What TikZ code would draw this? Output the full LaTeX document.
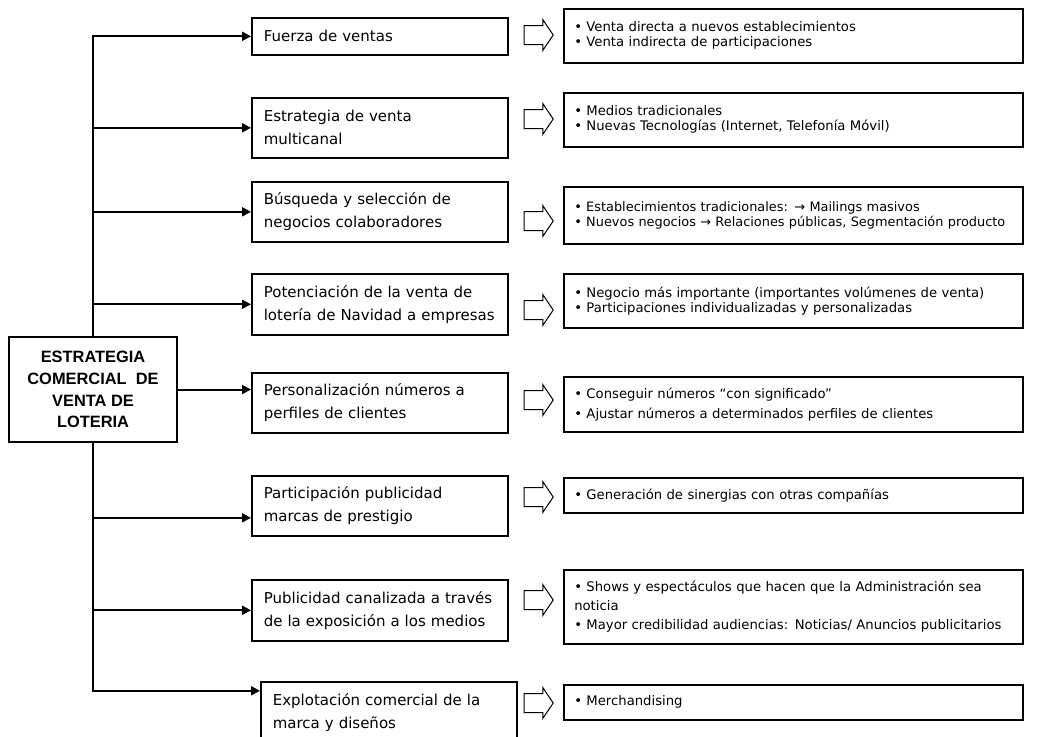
\documentclass[tikz,border=0pt]{standalone}
\usepackage{fontspec}
\setmainfont{DejaVu Sans}
\newfontfamily\arialfont{Liberation Sans}
\usetikzlibrary{arrows.meta,shapes.arrows}

\tikzset{
  mainbox/.style={draw, line width=0.8pt, minimum width=84pt, minimum height=52.5pt, align=center, inner sep=0pt, font=\arialfont\bfseries\fontsize{8.2}{10.9}\selectfont},
  branch/.style={draw, line width=0.8pt, anchor=north west, minimum width=128pt, text width=116pt, inner xsep=6pt, align=left, font=\fontsize{7.5}{11.5}\selectfont},
  detail/.style={draw, line width=0.8pt, anchor=north west, minimum width=229.5pt, text width=219pt, inner xsep=5.25pt, align=left, font=\fontsize{6.6}{7.5}\selectfont},
  hollow/.style={single arrow, draw, line width=0.5pt, minimum height=14.5pt, minimum width=15pt, single arrow head extend=3pt, single arrow tip angle=112, inner xsep=0pt, inner ysep=4.5pt},
  link/.style={line width=1pt, -{Triangle[length=4.5pt,width=4.5pt]}}
}

\begin{document}
\begin{tikzpicture}[x=0.5pt, y=-0.5pt]
    \path[use as bounding box, clip] (0,0) rectangle (1041,736);

    % Centre
    \node[mainbox] (main) at (93,389.5) {ESTRATEGIA\\COMERCIAL\ \ DE\\VENTA DE\\LOTERIA};

    % Branches
    \node[branch, minimum height=18.5pt] (b1) at (251,17) {Fuerza de ventas};
    \node[branch, minimum height=30pt] (b2) at (251,97) {Estrategia de venta\\multicanal};
    \node[branch, minimum height=30pt] (b3) at (251,181) {Búsqueda y selección de\\negocios colaboradores};
    \node[branch, minimum height=30.5pt] (b4) at (251,273) {Potenciación de la venta de\\lotería de Navidad a empresas};
    \node[branch, minimum height=30pt] (b5) at (251,372) {Personalización números a\\perfiles de clientes};
    \node[branch, minimum height=30pt] (b6) at (251,475) {Participación publicidad\\marcas de prestigio};
    \node[branch, minimum height=30.5pt] (b7) at (251,579) {Publicidad canalizada a través\\de la exposición a los medios};
    \node[branch, minimum height=31pt] (b8) at (260,681) {Explotación comercial de la\\marca y diseños};

    % Links from the centre
    \draw[link] (main.north) |- (b1.west);
    \draw[link] (main.north) |- (b2.west);
    \draw[link] (main.north) |- (b3.west);
    \draw[link] (main.north) |- (b4.west);
    \draw[link] (main.east) -- (main.east -| b5.west);
    \draw[link] (main.south) |- ([yshift=-6pt]b6.west);
    \draw[link] (main.south) |- (b7.west);
    \draw[link] (main.south) |- ([yshift=11pt]b8.west);

    % Hollow arrows
    \node[hollow] (h1) at (535.5,35) {};
    \node[hollow] (h2) at (535.5,119) {};
    \node[hollow] (h3) at (535.5,221) {};
    \node[hollow] (h4) at (535.5,310) {};
    \node[hollow] (h5) at (535.5,400) {};
    \node[hollow] (h6) at (535.5,497) {};
    \node[hollow] (h7) at (535.5,600) {};
    \node[hollow] (h8) at (535.5,703) {};

    % Details
    \node[detail, minimum height=27pt] (r1) at (563,8) {• Venta directa a nuevos establecimientos\\• Venta indirecta de participaciones};
    \node[detail, minimum height=27pt] (r2) at (563,92) {• Medios tradicionales\\• Nuevas Tecnologías (Internet, Telefonía Móvil)};
    \node[detail, minimum height=28.5pt, font=\fontsize{6.45}{7.5}\selectfont] (r3) at (563,186) {• Establecimientos tradicionales: → Mailings masivos\\\mbox{• Nuevos negocios → Relaciones públicas, Segmentación producto}};
    \node[detail, minimum height=27pt] (r4) at (563,273) {• Negocio más importante (importantes volúmenes de venta)\\• Participaciones individualizadas y personalizadas};
    \node[detail, minimum height=27.5pt, font=\fontsize{6.6}{10}\selectfont] (r5) at (563,376) {• Conseguir números “con significado”\\• Ajustar números a determinados perfiles de clientes};
    \node[detail, minimum height=17.5pt] (r6) at (563,477) {• Generación de sinergias con otras compañías};
    \node[detail, minimum height=37pt, font=\fontsize{6.6}{9.5}\selectfont] (r7) at (563,569) {• Shows y espectáculos que hacen que la Administración sea\\noticia\\• Mayor credibilidad audiencias: Noticias/ Anuncios publicitarios};
    \node[detail, minimum height=17.5pt] (r8) at (563,684) {• Merchandising};
\end{tikzpicture}
\end{document}
